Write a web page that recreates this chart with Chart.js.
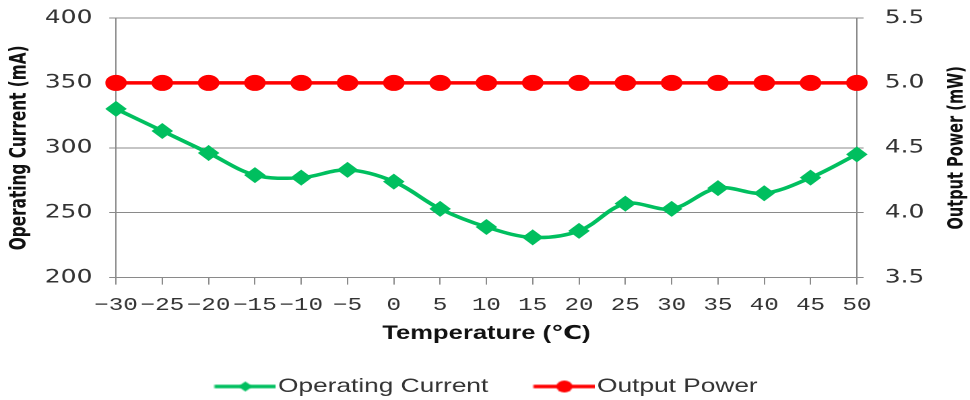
<!DOCTYPE html>
<html>
<head>
<meta charset="utf-8">
<script src="https://cdn.jsdelivr.net/npm/chart.js@4/dist/chart.umd.min.js"></script>
<style>
html,body{margin:0;padding:0;background:#fff;overflow:hidden;}
#wrap{width:720px;height:400px;transform:scaleX(1.34722);transform-origin:0 0;}
</style>
</head>
<body>
<div id="wrap"><canvas id="c"></canvas></div>
<script>
const temperatures = [-30,-25,-20,-15,-10,-5,0,5,10,15,20,25,30,35,40,45,50];
const operatingCurrent = [330,313,296,279,277,283,274,253,239,231,236,257,253,269,265,277,295];
const outputPower = [5.0,5.0,5.0,5.0,5.0,5.0,5.0,5.0,5.0,5.0,5.0,5.0,5.0,5.0,5.0,5.0,5.0];
const currentTicks = [200,250,300,350,400];
const powerTicks = [3.5,4.0,4.5,5.0,5.5];

const GREEN = '#00BF5F';
const RED = '#FF0000';
const GRID = '#8a8a8a';
const TEXT = '#333333';
const TITLE_FONT = '"Liberation Sans Narrow", "DejaVu Sans Condensed", "Liberation Sans", sans-serif';

function legendImage(color, kind) {
  const shift = 8.25, boxW = 46, h = 18;
  const cv = document.createElement('canvas');
  cv.width = boxW + 2 * shift; cv.height = h;
  const g = cv.getContext('2d');
  g.strokeStyle = color; g.fillStyle = color; g.lineWidth = 3.5;
  g.beginPath(); g.moveTo(2 * shift, h / 2); g.lineTo(cv.width, h / 2); g.stroke();
  const cx = 2 * shift + boxW / 2, cy = h / 2;
  g.beginPath();
  if (kind === 'diamond') {
    g.moveTo(cx - 5.5, cy); g.lineTo(cx, cy - 5); g.lineTo(cx + 5.5, cy); g.lineTo(cx, cy + 5);
    g.closePath();
  } else {
    g.arc(cx, cy, 6, 0, Math.PI * 2);
  }
  g.fill();
  return cv;
}
const legendImgs = [legendImage(GREEN, 'diamond'), legendImage(RED, 'circle')];

const rightTitle = {
  id: 'rightTitle',
  afterDraw(chart) {
    const ctx = chart.ctx, a = chart.chartArea;
    ctx.save();
    ctx.font = 'bold 16.2px ' + TITLE_FONT;
    ctx.fillStyle = '#111';
    ctx.textAlign = 'center';
    ctx.textBaseline = 'middle';
    ctx.translate(chart.width - 9.6, (a.top + a.bottom) / 2);
    ctx.rotate(-Math.PI / 2);
    ctx.fillText('Output Power (mW)', 0, 0);
    ctx.restore();
  }
};

function trimPad(scale) { scale.paddingTop = 8; scale.paddingBottom = 8; }

new Chart(document.getElementById('c'), {
  type: 'line',
  data: {
    labels: temperatures,
    datasets: [
      {
        label: 'Operating Current',
        data: operatingCurrent,
        yAxisID: 'y',
        borderColor: GREEN,
        backgroundColor: GREEN,
        borderWidth: 3.5,
        tension: 0.35,
        pointStyle: 'rectRot',
        pointRadius: 8,
        pointBorderWidth: 0,
        order: 2
      },
      {
        label: 'Output Power',
        data: outputPower,
        yAxisID: 'y1',
        borderColor: RED,
        backgroundColor: RED,
        borderWidth: 3.5,
        tension: 0,
        pointStyle: 'circle',
        pointRadius: 8,
        pointBorderWidth: 0,
        order: 1
      }
    ]
  },
  options: {
    responsive: true,
    maintainAspectRatio: false,
    devicePixelRatio: 2,
    animation: false,
    layout: { padding: { top: 18, left: -7, right: 0, bottom: -6.25 } },
    plugins: {
      tooltip: { enabled: false },
      legend: {
        position: 'bottom',
        labels: {
          usePointStyle: true,
          pointStyleWidth: 46,
          padding: 25,
          color: TEXT,
          font: { family: '"Liberation Sans", Arial, sans-serif', size: 19.5 },
          generateLabels(chart) {
            return chart.data.datasets.map((ds, i) => ({
              text: ds.label,
              fillStyle: ds.borderColor,
              strokeStyle: ds.borderColor,
              lineWidth: 0,
              pointStyle: legendImgs[i],
              datasetIndex: i,
              hidden: false,
              fontColor: TEXT
            }));
          }
        }
      }
    },
    scales: {
      x: {
        type: 'category',
        offset: false,
        grid: { drawOnChartArea: false, drawTicks: true, tickLength: 7, color: GRID },
        border: { color: GRID, width: 1 },
        ticks: {
          autoSkip: false,
          maxRotation: 0,
          minRotation: 0,
          padding: 10,
          color: TEXT,
          font: { family: '"Liberation Mono", "DejaVu Sans Mono", monospace', size: 18 },
          callback(value, index) { return String(temperatures[index]).replace('-', '\u2212'); }
        },
        title: {
          display: true,
          text: 'Temperature (\u2103)',
          color: '#111',
          padding: { top: 0, bottom: 6.7 },
          font: { family: '"Liberation Sans", "DejaVu Sans", sans-serif', size: 19, weight: 'bold' }
        },
        afterFit(scale) { scale.height = 74.1; }
      },
      y: {
        position: 'left',
        min: currentTicks[0],
        max: currentTicks[currentTicks.length - 1],
        grid: { drawOnChartArea: true, drawTicks: true, tickLength: 5, color: GRID },
        border: { color: GRID, width: 1 },
        ticks: {
          stepSize: 50,
          padding: 12.5,
          color: TEXT,
          font: { family: '"DejaVu Sans", Verdana, sans-serif', size: 18.5 }
        },
        title: {
          display: true,
          text: 'Operating Current (mA)',
          color: '#111',
          padding: { top: 13, bottom: 0 },
          font: { family: TITLE_FONT, size: 17, weight: 'bold', lineHeight: 1 }
        },
        afterFit(scale) { scale.width = 93.1; trimPad(scale); }
      },
      y1: {
        position: 'right',
        min: powerTicks[0],
        max: powerTicks[powerTicks.length - 1],
        grid: { drawOnChartArea: false, drawTicks: true, tickLength: 5, color: GRID },
        border: { color: GRID, width: 1 },
        ticks: {
          stepSize: 0.5,
          padding: 15.7,
          color: TEXT,
          font: { family: '"DejaVu Sans", Verdana, sans-serif', size: 18.5 },
          callback(v) { return Number(v).toFixed(1); }
        },
        afterFit(scale) { scale.width = 84; trimPad(scale); }
      }
    }
  },
  plugins: [rightTitle]
});
</script>
</body>
</html>
